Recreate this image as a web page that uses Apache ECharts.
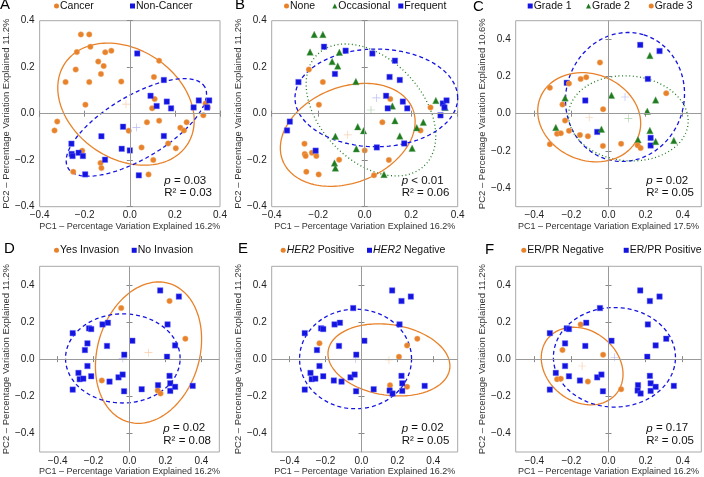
<!DOCTYPE html>
<html><head><meta charset="utf-8">
<script src="https://cdn.jsdelivr.net/npm/echarts@6.0.0/dist/echarts.min.js"></script>
<style>html,body{margin:0;padding:0;background:#fff}#c{width:704px;height:477px}</style>
</head><body><div id="c"></div>
<script>
// ---------- DATA: samples of panels A & B (same PCA coordinates) ----------
const pcX1 = [-0.217,-0.180,-0.235,-0.175,-0.240,-0.285,-0.180,-0.140,-0.128,-0.116,-0.109,-0.082,-0.038,-0.197,-0.322,-0.334,-0.211,-0.251,-0.130,-0.126,-0.005,0.052,0.076,0.083,0.104,0.130,0.170,0.204,0.107,0.130,0.110,0.099,0.224,0.240,0.252,0.326,0.346,0.336,
  0.033,0.092,0.119,0.164,0.183,0.151,0.283,0.306,0.352,0.343,-0.030,-0.126,-0.036,0.000,-0.110,0.040,0.151,-0.259,-0.258,-0.254,-0.227,-0.208,-0.198];
const pcY1 = [0.341,0.341,0.265,0.288,0.190,0.136,0.136,0.224,0.171,0.205,0.264,0.271,0.138,0.039,-0.034,-0.072,-0.159,-0.250,-0.212,-0.234,-0.073,-0.145,-0.037,-0.261,-0.199,-0.030,-0.128,-0.149,0.158,0.228,0.063,0.023,-0.060,-0.072,-0.037,-0.007,0.027,0.044,
  0.259,0.077,0.033,0.052,0.023,0.145,0.027,0.057,0.057,0.027,-0.056,-0.097,-0.151,-0.158,-0.198,-0.265,-0.096,-0.129,-0.173,-0.182,-0.168,-0.182,-0.261];
// panel A: 0 = Cancer, 1 = Non-Cancer
const groupA = [0,0,0,0,0,0,0,0,0,0,0,0,0,0,0,0,0,0,0,0,0,0,0,0,0,0,0,0,0,0,0,0,0,0,0,0,0,0,
  1,1,1,1,1,1,1,1,1,1,1,1,1,1,1,1,1,1,1,1,1,1,1];
// panel B: 0 = None, 1 = Occasional, 2 = Frequent
const groupB = [1,1,1,2,0,2,0,1,2,1,1,2,1,0,2,2,2,0,1,1,1,2,0,1,0,1,2,1,2,2,0,2,1,0,1,2,1,2,
  2,2,1,2,2,2,0,1,2,2,1,1,1,0,0,0,1,0,0,0,0,0,0];

// ---------- DATA: samples of panels C-F (same PCA coordinates) ----------
const pcX2 = [0.171,0.275,0.212,-0.225,-0.125,-0.061,0.227,0.227,
  0.223,-0.234,0.016,0.254,0.209,-0.284,-0.038,0.223,0.159,0.254,0.352,
  -0.046,-0.316,-0.213,-0.150,-0.120,0.311,-0.248,-0.029,-0.234,-0.277,-0.257,-0.213,-0.154,-0.111,-0.316,-0.030,0.068,0.157,0.173];
const pcY2 = [0.370,0.337,0.187,0.166,0.071,-0.098,-0.130,-0.171,
  0.313,0.085,0.099,0.074,0.013,-0.074,-0.083,-0.090,-0.140,-0.149,-0.144,
  0.275,0.140,0.162,0.187,0.196,0.110,0.049,0.024,-0.037,-0.108,-0.105,-0.092,-0.115,-0.121,-0.164,-0.173,-0.162,-0.169,-0.185];
// panel C: 0 = Grade 1, 1 = Grade 2, 2 = Grade 3
const groupC = [0,0,0,0,0,0,0,0, 1,1,1,1,1,1,1,1,1,1,1, 2,2,2,2,2,2,2,2,2,2,2,2,2,2,2,2,2,2,2];
// panel D: 0 = Yes Invasion, 1 = No Invasion
const groupD = [1,1,1,1,1,1,1,1, 0,1,1,1,1,1,1,1,1,1,1, 0,1,1,1,1,0,1,1,1,1,1,1,0,1,1,1,1,0,0];
// panel E: 0 = HER2 Positive, 1 = HER2 Negative
const groupE = [1,1,1,1,1,1,1,1, 1,0,1,0,0,1,1,1,0,0,1, 1,1,1,1,1,0,1,1,1,1,1,1,1,1,1,1,1,1,1];
// panel F: 0 = ER/PR Negative, 1 = ER/PR Positive
const groupF = [1,1,1,1,1,1,1,1, 1,1,1,1,1,1,1,1,1,1,1, 1,1,1,0,1,1,0,0,1,0,0,1,1,0,1,1,0,1,1];

// ---------- class names ----------
const namesA = ['Cancer','Non-Cancer'];
const namesB = ['None','Occasional','Frequent'];
const namesC = ['Grade 1','Grade 2','Grade 3'];
const namesD = ['Yes Invasion','No Invasion'];
const namesE = ['HER2 Positive','HER2 Negative'];
const namesF = ['ER/PR Negative','ER/PR Positive'];

// ---------- confidence ellipses: [centerX, centerY, semiAxisA, semiAxisB, angleDeg] per class ----------
const ellipseA = [[-0.017,0.041,0.323,0.237,-31],[0.029,-0.059,0.350,0.136,29.7]];
const ellipseB = [[-0.073,-0.091,0.301,0.206,21.6],[0.027,0.016,0.332,0.219,-46.3],[0.050,0.068,0.350,0.210,0]];
const ellipseC = [[0.089,0.090,0.349,0.318,73.6],[0.107,-0.025,0.323,0.228,-5],[-0.104,-0.019,0.284,0.232,-21.7]];
const ellipseD = [[0.106,0.035,0.390,0.283,71.6],[-0.037,0.004,0.319,0.240,0]];
const ellipseE = [[0.153,-0.004,0.342,0.190,-8],[-0.033,0.001,0.312,0.268,0]];
const ellipseF = [[-0.142,-0.037,0.237,0.190,-38],[0.032,0.010,0.329,0.268,0]];

// ---------- statistics & titles ----------
const statP  = ['= 0.03','< 0.01','= 0.02','= 0.02','= 0.02','= 0.17'];
const statR2 = ['0.03','0.06','0.05','0.08','0.05','0.05'];
const panelLetters = ['A','B','C','D','E','F'];
const tickValues = [-0.4,-0.2,0,0.2,0.4];
const xTitles = ['PC1 \u2013 Percentage Variation Explained 16.2%','PC1 \u2013 Percentage Variation Explained 16.2%','PC1 \u2013 Percentage Variation Explained 17.5%',
  'PC1 \u2013 Percentage Variation Explained 16.2%','PC1 \u2013 Percentage Variation Explained 16.2%','PC1 \u2013 Percentage Variation Explained 16.2%'];
const yTitles = ['PC2 \u2013 Percentage Variation Explained 11.2%','PC2 \u2013 Percentage Variation Explained 11.2%','PC2 \u2013 Percentage Variation Explained 10.6%',
  'PC2 \u2013 Percentage Variation Explained 11.2%','PC2 \u2013 Percentage Variation Explained 11.2%','PC2 \u2013 Percentage Variation Explained 11.2%'];

// ---------- styles / layout ----------
const FONT = '"Liberation Sans", Arial, Helvetica, sans-serif';
const STY = {
  o: {color:'#E8822A', symbol:'circle', size:5.5, line:{type:'solid', width:1.3}, cross:'rgba(232,130,42,0.5)', border:'rgba(240,170,110,0.6)'},
  b: {color:'#1414E0', symbol:'rect', size:5.5, line:{type:[4,3], width:1.3}, cross:'rgba(60,60,230,0.45)', border:'rgba(110,110,255,0.55)'},
  g: {color:'#1E7B1E', symbol:'triangle', size:6.5, line:{type:[1,2.6], width:1.3}, cross:'rgba(40,130,40,0.5)', border:'rgba(90,160,90,0.5)'}
};
// leg = x where each legend label's text starts
const panels = [
  {x:pcX1,y:pcY1,g:groupA,names:namesA,kinds:['o','b'],ell:ellipseA,xr:[-0.4,0.4],yr:[-0.4,0.4],grid:{left:32.3,top:20.7,width:187.7,height:186},leg:[60,136],legY:7,letter:[0,-3],stat:[164.3,181.7]},
  {x:pcX1,y:pcY1,g:groupB,names:namesB,kinds:['o','g','b'],ell:ellipseB,xr:[-0.4,0.4],yr:[-0.4,0.4],grid:{left:271.7,top:20.7,width:186,height:186},leg:[290,338.3,404.3],legY:7,letter:[235,-3],stat:[401.7,181.7]},
  {x:pcX2,y:pcY2,g:groupC,names:namesC,kinds:['b','g','o'],ell:ellipseC,xr:[-0.5,0.5],yr:[-0.5,0.5],grid:{left:515.7,top:20.7,width:185.6,height:186},leg:[533.7,592,654.7],legY:7,letter:[473,-1],stat:[646.3,181.7]},
  {x:pcX2,y:pcY2,g:groupD,names:namesD,kinds:['o','b'],ell:ellipseD,xr:[-0.5,0.5],yr:[-0.5,0.5],grid:{left:33.3,top:266.3,width:186,height:185.7},leg:[60,137.7],legY:251.3,letter:[4,241],stat:[163.3,429.3]},
  {x:pcX2,y:pcY2,g:groupE,names:namesE,kinds:['o','b'],ell:ellipseE,xr:[-0.5,0.536],yr:[-0.5,0.5],grid:{left:271.7,top:266.3,width:186,height:185.7},leg:[286.7,373],legY:251.3,letter:[238,241],stat:[401.7,429.3]},
  {x:pcX2,y:pcY2,g:groupF,names:namesF,kinds:['o','b'],ell:ellipseF,xr:[-0.5,0.5],yr:[-0.5,0.5],grid:{left:515.7,top:266.3,width:185.6,height:185.7},leg:[527.3,629.7],legY:251.3,letter:[485,242],stat:[646.3,429.3]}
];

function fmt(v){ if (Math.abs(v) < 1e-9) return '0.0'; return (v < 0 ? '\u2212' : '') + Math.abs(v).toFixed(1); }
function ellipsePts(e){
  const [cx,cy,a,b,deg] = e, th = deg*Math.PI/180, out = [];
  for (let i = 0; i <= 160; i++){
    const t = 2*Math.PI*i/160;
    out.push([cx + a*Math.cos(t)*Math.cos(th) - b*Math.sin(t)*Math.sin(th),
              cy + a*Math.cos(t)*Math.sin(th) + b*Math.sin(t)*Math.cos(th)]);
  }
  return out;
}
const PLUS = 'path://M4.6,0h0.8v4.6h4.6v0.8h-4.6v4.6h-0.8v-4.6h-4.6v-0.8h4.6z';
const TICK = {show:true, customValues:tickValues, length:3, inside:false, lineStyle:{color:'#888', width:1}};

const grids = [], xAxes = [], yAxes = [], series = [], legends = [], graphics = [];
panels.forEach((p, pi) => {
  grids.push(Object.assign({show:true, borderColor:'#a8a8a8', borderWidth:1, backgroundColor:'transparent'}, p.grid));
  xAxes.push({gridIndex:pi, type:'value', min:p.xr[0], max:p.xr[1], position:'bottom',
    axisLine:{show:false}, axisTick:TICK, splitLine:{show:false},
    axisLabel:{customValues:tickValues, formatter:fmt, fontSize:10, color:'#222', margin:4, fontFamily:FONT},
    name:xTitles[pi], nameLocation:'middle', nameGap:15, nameTextStyle:{fontSize:9, color:'#333', fontFamily:FONT}});
  yAxes.push({gridIndex:pi, type:'value', min:p.yr[0], max:p.yr[1], position:'left',
    axisLine:{show:false}, axisTick:TICK, splitLine:{show:false},
    axisLabel:{customValues:tickValues, formatter:fmt, fontSize:10, color:'#222', margin:5, fontFamily:FONT},
    name:yTitles[pi], nameLocation:'middle', nameGap:22, nameTextStyle:{fontSize:9.5, color:'#333', fontFamily:FONT}});
});
// mirrored tick-only axes on top and right of every panel
panels.forEach((p, pi) => {
  xAxes.push({gridIndex:pi, type:'value', min:p.xr[0], max:p.xr[1], position:'top',
    axisLine:{show:false}, axisTick:TICK, splitLine:{show:false}, axisLabel:{show:false}});
  yAxes.push({gridIndex:pi, type:'value', min:p.yr[0], max:p.yr[1], position:'right',
    axisLine:{show:false}, axisTick:TICK, splitLine:{show:false}, axisLabel:{show:false}});
});
panels.forEach((p, pi) => {
  // ellipses and centroids
  p.kinds.forEach((k, ci) => {
    const s = STY[k], e = p.ell[ci];
    series.push({type:'line', name:p.names[ci]+' ellipse', xAxisIndex:pi, yAxisIndex:pi, data:ellipsePts(e),
      showSymbol:false, symbol:'none', smooth:false, silent:true, z:2, animation:false,
      lineStyle:{color:s.color, width:s.line.width, type:s.line.type}});
    series.push({type:'scatter', name:p.names[ci]+' centroid', xAxisIndex:pi, yAxisIndex:pi, data:[[e[0],e[1]]],
      symbol:PLUS, symbolSize:8, silent:true, z:1, itemStyle:{color:s.cross}, animation:false});
  });
  // points
  p.kinds.forEach((k, ci) => {
    const s = STY[k], d = [];
    p.g.forEach((gv, i) => { if (gv === ci) d.push([p.x[i], p.y[i]]); });
    const ser = {type:'scatter', name:p.names[ci], xAxisIndex:pi, yAxisIndex:pi, data:d,
      symbol:s.symbol, symbolSize:s.size, z:3, animation:false,
      itemStyle:{color:s.color, borderColor:s.border, borderWidth:0.8, opacity:1}};
    if (ci === 0) ser.markLine = {silent:true, symbol:['none','none'], label:{show:false}, animation:false,
      lineStyle:{color:'#9a9a9a', width:1, type:'solid'}, data:[{xAxis:0},{yAxis:0}]};
    series.push(ser);
    legends.push({data:[p.names[ci]], left:p.leg[ci]-6, top:p.legY-6.5, padding:0, itemWidth:5, itemHeight:5,
      icon:s.symbol, selectedMode:false, itemStyle:{borderWidth:0},
      formatter: n => n.replace('HER2','{i|HER2}'),
      textStyle:{fontSize:10.5, color:'#111', fontFamily:FONT, padding:[0,0,0,-4],
        rich:{i:{fontStyle:'italic', fontSize:10.5, color:'#111', fontFamily:FONT}}}});
  });
  graphics.push({type:'text', left:p.letter[0], top:p.letter[1], style:{text:panelLetters[pi], fontSize:15, fill:'#000', fontFamily:FONT}});
  graphics.push({type:'text', left:p.stat[0], top:p.stat[1]-7, style:{text:'{i|p} '+statP[pi], fontSize:11.5, fill:'#111', fontFamily:FONT,
    rich:{i:{fontStyle:'italic', fontSize:11.5, fill:'#111', fontFamily:FONT}}}});
  graphics.push({type:'text', left:p.stat[0], top:p.stat[1]+5.3, style:{text:'R\u00B2 = '+statR2[pi], fontSize:11.5, fill:'#111', fontFamily:FONT}});
});

const chart = echarts.init(document.getElementById('c'), null, {renderer:'canvas'});
chart.setOption({animation:false, backgroundColor:'#fff', grid:grids, xAxis:xAxes, yAxis:yAxes, series:series, legend:legends, graphic:graphics});
</script></body></html>
